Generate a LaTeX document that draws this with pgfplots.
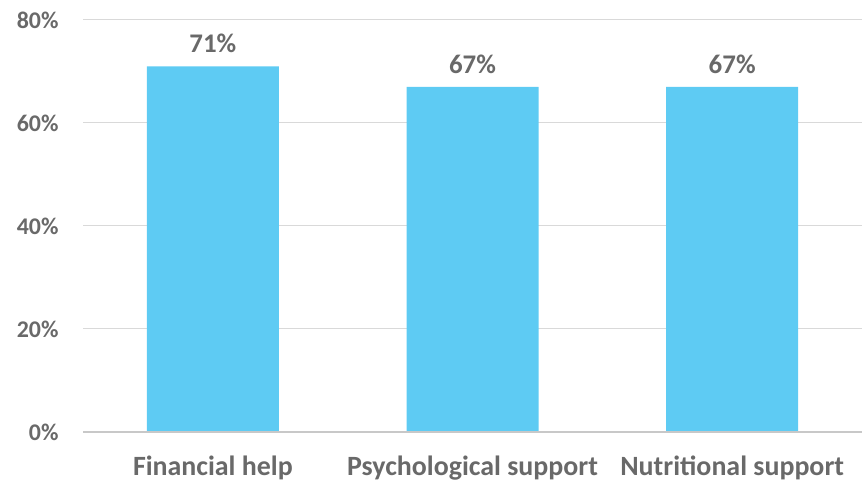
\documentclass[border=0pt]{standalone}
\usepackage{pgfplots}
\pgfplotsset{compat=1.18}
\usepackage{fontspec}
\setmainfont{Carlito}
\definecolor{barblue}{RGB}{94,203,243}
\definecolor{txtgray}{RGB}{105,105,105}
\definecolor{gridgray}{RGB}{217,217,217}
\definecolor{basegray}{RGB}{200,200,200}
\begin{document}
\begin{tikzpicture}[x=1bp,y=1bp]
\useasboundingbox (0,0) rectangle (862,483);
\begin{axis}[
  at={(83bp,51bp)}, anchor=south west,
  scale only axis, width=779bp, height=412bp,
  xmin=-0.5, xmax=2.5, ymin=0, ymax=80,
  ybar, bar width=132bp,
  axis line style={draw=none},
  xtick=data, xticklabels={Financial help,Psychological support,Nutritional support},
  ytick={0,20,40,60,80},
  yticklabel={\pgfmathprintnumber{\tick}\%},
  /pgf/number format/assume math mode=true,
  ymajorgrids, grid style={gridgray, line width=1bp},
  major tick length=0pt,
  yticklabel style={font=\fontsize{24}{28}\selectfont\bfseries, text=txtgray, xshift=-21bp},
  xticklabel style={font=\fontsize{28}{32}\selectfont\bfseries, text=txtgray, yshift=-20bp},
  nodes near coords={\pgfmathprintnumber{\pgfplotspointmeta}\%},
  nodes near coords style={font=\fontsize{27}{31}\selectfont\bfseries, text=txtgray, yshift=10bp},
  clip=false,
]
\addplot[fill=barblue, draw=none] coordinates {(0,71) (1,67) (2,67)};
\draw[basegray, line width=1.2bp] (axis cs:-0.5,0) -- (axis cs:2.5,0);
\end{axis}
\end{tikzpicture}
\end{document}
